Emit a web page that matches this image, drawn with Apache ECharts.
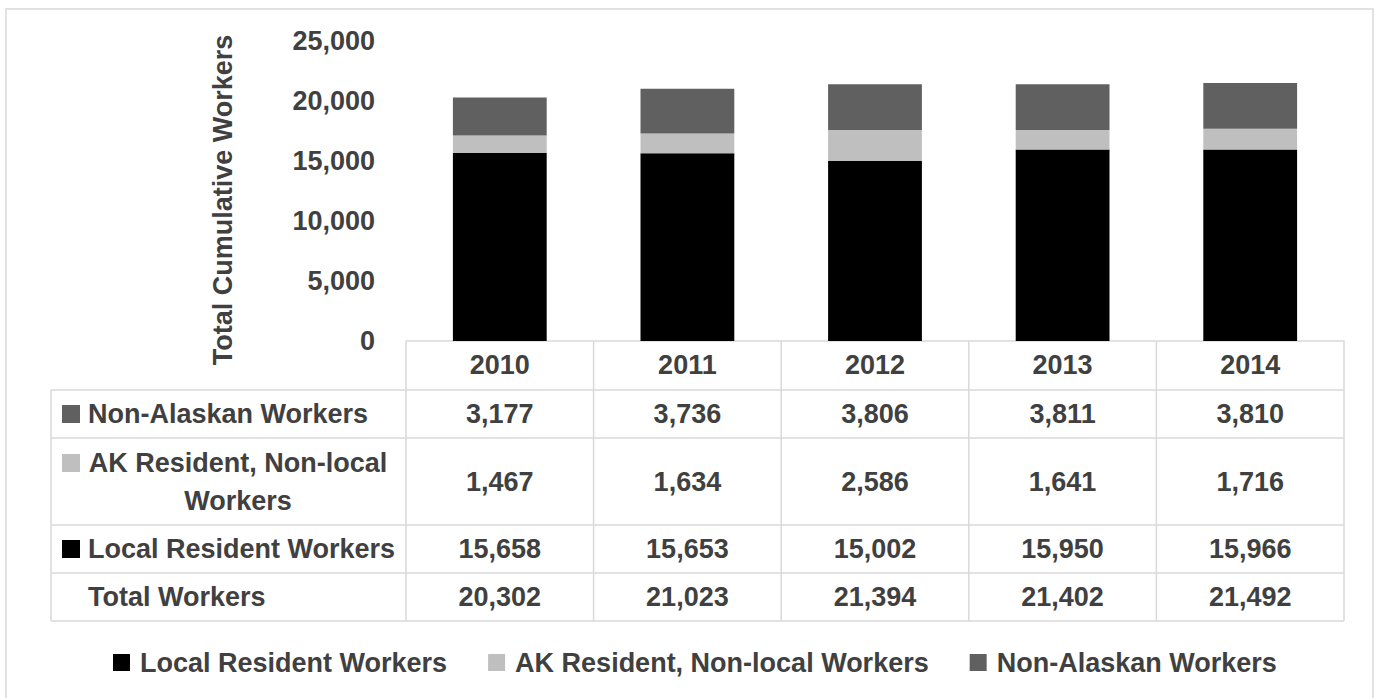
<!DOCTYPE html>
<html><head><meta charset="utf-8">
<script src="https://cdn.jsdelivr.net/npm/echarts@6/dist/echarts.min.js"></script>
<style>html,body{margin:0;padding:0;background:#fff}#c{width:1377px;height:698px}</style>
</head><body><div id="c"></div>
<script>
// ---- data ----
const years = ['2010', '2011', '2012', '2013', '2014'];
const localWorkers = [15658, 15653, 15002, 15950, 15966];
const akNonLocalWorkers = [1467, 1634, 2586, 1641, 1716];
const nonAlaskanWorkers = [3177, 3736, 3806, 3811, 3810];
const totalWorkers = [20302, 21023, 21394, 21402, 21492];
const seriesNames = ['Local Resident Workers', 'AK Resident, Non-local Workers', 'Non-Alaskan Workers'];
const yAxisTitle = 'Total Cumulative Workers';
const yMin = 0, yMax = 25000, yStep = 5000;

// ---- style ----
const FONT = '"Liberation Sans", Arial, sans-serif';
const FS = 27;
const TXT = '#404040';
const GRID_LINE = '#d9d9d9';
const colors = ['#000000', '#bfbfbf', '#606060'];
const fmt = v => Number(v).toLocaleString('en-US');

const chart = echarts.init(document.getElementById('c'), null, {renderer: 'svg'});
const GRID = {left: 406, right: 33, top: 41, bottom: 357};

chart.setOption({
  backgroundColor: '#ffffff',
  animation: false,
  grid: GRID,
  legend: {
    left: 108, top: 644,
    icon: 'rect', itemWidth: 17, itemHeight: 17, itemGap: 41,
    data: seriesNames,
    textStyle: {fontFamily: FONT, fontSize: FS, fontWeight: 'bold', color: TXT, padding: [0, 0, 0, 5]}
  },
  xAxis: {
    type: 'category', data: years,
    axisLine: {show: true, lineStyle: {color: GRID_LINE, width: 1.5}},
    axisTick: {show: false},
    axisLabel: {margin: 24, verticalAlign: 'middle', fontFamily: FONT, fontSize: FS, fontWeight: 'bold', color: TXT}
  },
  yAxis: {
    type: 'value', min: yMin, max: yMax, interval: yStep,
    axisLine: {show: false}, axisTick: {show: false}, splitLine: {show: false},
    axisLabel: {margin: 31, formatter: v => fmt(v), fontFamily: FONT, fontSize: FS, fontWeight: 'bold', color: TXT}
  },
  series: [
    {name: seriesNames[0], type: 'bar', stack: 'w', data: localWorkers, barWidth: '50%', itemStyle: {color: colors[0]}},
    {name: seriesNames[1], type: 'bar', stack: 'w', data: akNonLocalWorkers, barWidth: '50%', itemStyle: {color: colors[1]}},
    {name: seriesNames[2], type: 'bar', stack: 'w', data: nonAlaskanWorkers, barWidth: '50%', itemStyle: {color: colors[2]}}
  ]
});

// ---- data table under the plot ----
const rows = [
  {label: 'Non-Alaskan Workers', color: colors[2], values: nonAlaskanWorkers},
  {label: 'AK Resident, Non-local\nWorkers', color: colors[1], values: akNonLocalWorkers, center: true},
  {label: 'Local Resident Workers', color: colors[0], values: localWorkers},
  {label: 'Total Workers', color: null, values: totalWorkers}
];
const rowEdges = [341, 390, 438, 525, 573, 621];
const labelLeft = 51;

const c0 = chart.convertToPixel({xAxisIndex: 0}, 0);
const c1 = chart.convertToPixel({xAxisIndex: 0}, 1);
const band = c1 - c0;
const centers = years.map((y, i) => chart.convertToPixel({xAxisIndex: 0}, i));
const colEdges = [centers[0] - band / 2].concat(centers.map(c => c + band / 2));
const tableRight = colEdges[colEdges.length - 1];

const g = [];
const line = (x1, y1, x2, y2) => g.push({type: 'line', silent: true, shape: {x1, y1, x2, y2}, style: {stroke: GRID_LINE, lineWidth: 1.5}});
const text = (x, y, t, align, extra) => g.push({type: 'text', silent: true, x, y, style: Object.assign({
  text: t, fill: TXT, font: 'bold ' + FS + 'px ' + FONT,
  align: align, verticalAlign: 'middle', textAlign: align, textVerticalAlign: 'middle'
}, extra || {})});

// outer chart border
g.push({type: 'rect', silent: true, shape: {x: 6, y: 9, width: 1367, height: 700}, style: {fill: 'none', stroke: GRID_LINE, lineWidth: 1.5}});

// vertical lines
colEdges.forEach(x => line(x, rowEdges[0], x, rowEdges[rowEdges.length - 1]));
line(labelLeft, rowEdges[1], labelLeft, rowEdges[rowEdges.length - 1]);
// horizontal lines
for (let r = 1; r < rowEdges.length; r++) line(labelLeft, rowEdges[r], tableRight, rowEdges[r]);

rows.forEach((row, r) => {
  const cy = (rowEdges[r + 1] + rowEdges[r + 2]) / 2;
  if (row.color) {
    const sqY = row.center ? cy - 27.5 : cy - 9;
    g.push({type: 'rect', silent: true, shape: {x: 62, y: sqY, width: 18, height: 18}, style: {fill: row.color}});
  }
  if (row.center) {
    text(238, cy, row.label, 'center', {lineHeight: 38});
  } else {
    text(88, cy, row.label, 'left');
  }
  row.values.forEach((v, i) => text(centers[i], cy, fmt(v), 'center'));
});

// y axis title
g.push({type: 'text', silent: true, x: 223, y: 200, rotation: Math.PI / 2, style: {
  text: yAxisTitle, fill: TXT, font: 'bold ' + FS + 'px ' + FONT,
  align: 'center', verticalAlign: 'middle', textAlign: 'center', textVerticalAlign: 'middle'
}});

chart.setOption({graphic: g});
</script>
</body></html>
